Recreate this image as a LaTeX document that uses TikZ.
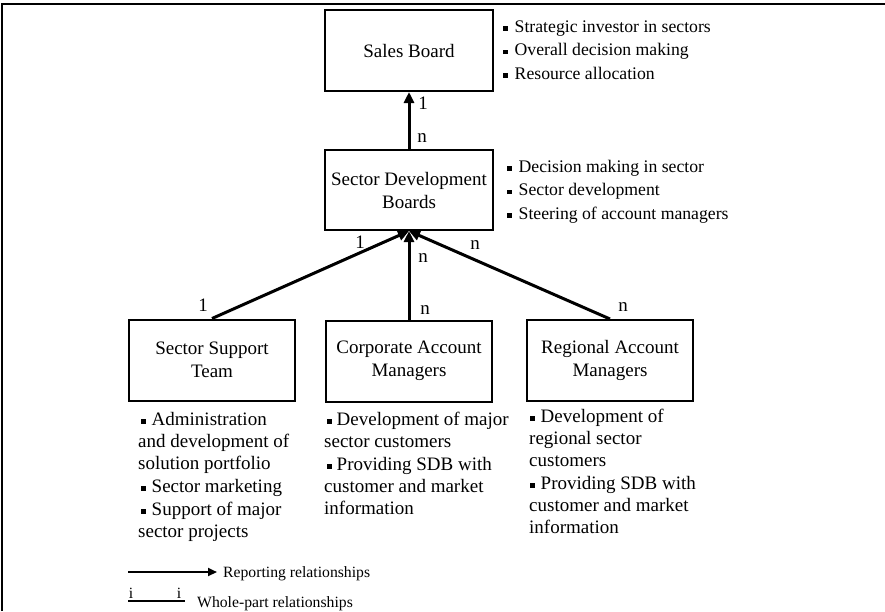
\documentclass[tikz,border=0pt]{standalone}
\usepackage{fontspec}
\setmainfont{Liberation Serif}
\usetikzlibrary{arrows.meta}
% small square bullet used in the note lists
\newcommand\sqb{\rule[1.5pt]{4.5pt}{4.5pt}}
\begin{document}
\begin{tikzpicture}[x=1pt,y=-1pt,
  unitbox/.style={draw,line width=2pt,minimum width=168pt,minimum height=81pt,
    align=center,inner sep=0pt,font=\fontsize{19}{23}\selectfont},
  rel/.style={line width=3pt,-{Triangle[length=11pt,width=10pt]}},
  card/.style={font=\fontsize{19}{22}\selectfont,inner sep=0pt},
  notes/.style={anchor=north west,align=left,inner sep=0pt},
  legendtext/.style={anchor=base west,inner sep=0pt,font=\fontsize{15.7}{18}\selectfont},
]
\useasboundingbox (0,0) rectangle (885,611);
\draw[line width=2pt] (1.5,611) -- (1.5,4.3) -- (885,4.3);

% organisational units
\node[unitbox] (sales) at (409,50.5) {Sales Board};
\node[unitbox,minimum height=80pt] (sdb) at (409,190) {Sector Development\\Boards};
\node[unitbox,minimum width=166pt] (sst) at (212,360) {Sector Support\\Team};
\node[unitbox,minimum width=166pt] (cam) at (409,361) {Corporate Account\\Managers};
\node[unitbox,minimum width=166pt] (ram) at (610,360.5) {Regional Account\\Managers};

% reporting lines
\draw[rel] (sdb.north) -- (sales.south);
\draw[rel] (sst.north) -- (sdb.south);
\draw[rel] (ram.north) -- (sdb.south);
\draw[rel] (cam.north) -- (sdb.south);

% cardinalities
\node[card] (c1) at (423,103) {1};
\node[card] (c2) at (422,138) {n};
\node[card] (c3) at (360,242) {1};
\node[card] (c4) at (203,305) {1};
\node[card] (c5) at (423,258) {n};
\node[card] (c6) at (425,310) {n};
\node[card] (c7) at (475,245) {n};
\node[card] (c8) at (623,307) {n};

% responsibilities (first line starts with a strut: top = baseline - 0.7 baselineskip)
\node[notes,font=\fontsize{17.7}{23.5}\selectfont] (nsales) at (503,15.55)
  {\strut\sqb\hspace{7pt}Strategic investor in sectors\\
   \sqb\hspace{7pt}Overall decision making\\
   \sqb\hspace{7pt}Resource allocation};
\node[notes,font=\fontsize{17.7}{23.5}\selectfont] (nsdb) at (507,155.55)
  {\strut\sqb\hspace{7pt}Decision making in sector\\
   \sqb\hspace{7pt}Sector development\\
   \sqb\hspace{7pt}Steering of account managers};
\node[notes,font=\fontsize{19}{22}\selectfont] (nsst) at (138,409.6)
  {\strut\hspace*{3pt}\sqb\hspace{6pt}Administration\\
   and development of\\
   solution portfolio\\[1pt]
   \hspace*{3pt}\sqb\hspace{6pt}Sector marketing\\[1pt]
   \hspace*{3pt}\sqb\hspace{6pt}Support of major\\
   sector projects};
\node[notes,font=\fontsize{19}{22}\selectfont] (ncam) at (324,409.6)
  {\strut\hspace*{3pt}\sqb\hspace{5pt}Development of major\\
   sector customers\\[1pt]
   \hspace*{3pt}\sqb\hspace{5pt}Providing SDB with\\
   customer and market\\
   information};
\node[notes,font=\fontsize{19}{22}\selectfont] (nram) at (529,406.6)
  {\strut\hspace*{1pt}\sqb\hspace{6pt}Development of\\
   regional sector\\
   customers\\[1pt]
   \hspace*{1pt}\sqb\hspace{6pt}Providing SDB with\\
   customer and market\\
   information};

% legend
\coordinate (repA) at (128,572);
\coordinate (repB) at (217,572);
\draw[line width=2pt,-{Triangle[length=9pt,width=8pt]}] (repA) -- (repB);
\node[legendtext] (repT) at (223,577) {Reporting relationships};
\coordinate (wpA) at (128,601);
\coordinate (wpB) at (185,601);
\draw[line width=1.5pt] (wpA) -- (wpB);
\node[legendtext,anchor=base] (wpi1) at (131,598) {i};
\node[legendtext,anchor=base] (wpi2) at (179,598) {i};
\node[legendtext] (wpT) at (197,607) {Whole-part relationships};
\end{tikzpicture}
\end{document}
